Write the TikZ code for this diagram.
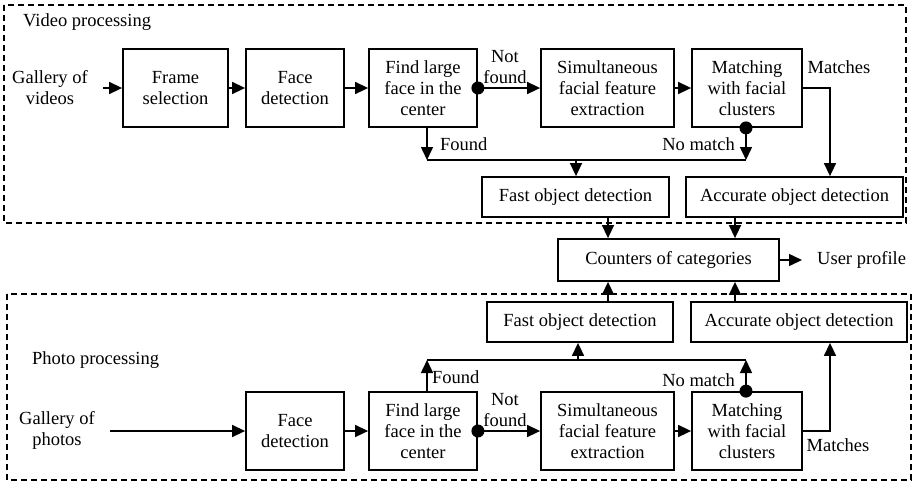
\documentclass[tikz,border=0pt]{standalone}
\usepackage{fontspec}
\setmainfont{Liberation Serif}
\usetikzlibrary{arrows.meta}
\begin{document}
\begin{tikzpicture}[x=1pt,y=-1pt,
  every node/.style={font=\fontsize{18.5}{21}\selectfont},
  box/.style={draw, line width=1.8pt, inner sep=0pt, align=center, minimum height=78pt},
  wbox/.style={draw, line width=1.8pt, inner sep=0pt, align=center, minimum height=40pt},
  lbl/.style={inner sep=0pt, align=center},
  conn/.style={line width=1.5pt},
  arr/.style={conn, -{Triangle[length=13pt,width=12pt]}},
  dot/.style={fill=black, circle, inner sep=0pt, minimum size=13pt},
  region/.style={draw, line width=1.2pt, dash pattern=on 6pt off 4pt}]
\useasboundingbox (0,0) rectangle (912,483);
% regions
\draw[region] (4,5) rectangle (906,223);
\draw[region] (7,294) rectangle (911,480);
\node[lbl, anchor=west] (vp) at (23,22) {Video processing};
\node[lbl, anchor=west] (pp) at (32,360) {Photo processing};
% x reference coordinates
\coordinate (x427) at (427,0);
\coordinate (x576) at (576,0);
\coordinate (x578) at (578,0);
\coordinate (x608) at (608,0);
\coordinate (x735) at (735,0);
\coordinate (x746) at (746,0);
\coordinate (x830) at (830,0);
% top row
\node[lbl] (gal1) at (50,88) {Gallery of\\videos};
\coordinate (gal1s) at (103,88);
\node[box, minimum width=105pt] (frame) at (175.5,88) {Frame\\selection};
\node[box, minimum width=98pt] (face1) at (295,88) {Face\\detection};
\node[box, minimum width=108pt] (find1) at (423,88) {Find large\\face in the\\center};
\node[box, minimum width=133pt] (sim1) at (607.5,88) {Simultaneous\\facial feature\\extraction};
\node[box, minimum width=110pt] (match1) at (747,88) {Matching\\with facial\\clusters};
\node[wbox, minimum width=187pt] (fast1) at (575.5,197) {Fast object detection};
\node[wbox, minimum width=217pt] (acc1) at (794.5,197) {Accurate object detection};
\node[wbox, minimum width=221pt, minimum height=42pt] (count) at (668.5,260) {Counters of categories};
\node[lbl, anchor=west] (user) at (817,260) {User profile};
\node[wbox, minimum width=186pt] (fast2) at (580,322) {Fast object detection};
\node[wbox, minimum width=216pt] (acc2) at (799,322) {Accurate object detection};
% bottom row
\node[lbl] (gal2) at (57,430) {Gallery of\\photos};
\coordinate (gal2s) at (110,431);
\node[box, minimum width=98pt] (face2) at (295,431) {Face\\detection};
\node[box, minimum width=108pt] (find2) at (423,431) {Find large\\face in the\\center};
\node[box, minimum width=133pt] (sim2) at (607.5,431) {Simultaneous\\facial feature\\extraction};
\node[box, minimum width=110pt] (match2) at (747,431) {Matching\\with facial\\clusters};
% top connectors
\draw[arr] (gal1s) -- (frame.west);
\draw[arr] (frame.east) -- (face1.west);
\draw[arr] (face1.east) -- (find1.west);
\draw[arr] (find1.east) -- (sim1.west);
\node[dot] (d1) at (find1.east) {};
\node[lbl] (nf1) at (505,67) {Not\\found};
\draw[arr] (sim1.east) -- (match1.west);
\coordinate (mt1) at (830,88);
\draw[arr] (match1.east) -- (mt1) -- (acc1.north -| x830);
\node[lbl] (m1) at (839,67) {Matches};
\coordinate (j1a) at (427,160);
\coordinate (j1b) at (746,160);
\draw[arr] (find1.south -| x427) -- (j1a);
\draw[arr] (match1.south -| x746) -- (j1b);
\node[dot] (d2) at (match1.south -| x746) {};
\draw[conn] (j1a) -- (j1b);
\draw[arr] (j1a -| x576) -- (fast1.north -| x576);
\node[lbl, anchor=west] (f1) at (440,144) {Found};
\node[lbl, anchor=east] (nm1) at (735,144) {No match};
\draw[arr] (fast1.south -| x608) -- (count.north -| x608);
\draw[arr] (acc1.south -| x735) -- (count.north -| x735);
\draw[arr] (count.east) -- (user.west -| 802,0);
% middle up connectors
\draw[arr] (fast2.north -| x608) -- (count.south -| x608);
\draw[arr] (acc2.north -| x735) -- (count.south -| x735);
% bottom connectors
\draw[arr] (gal2s) -- (face2.west);
\draw[arr] (face2.east) -- (find2.west);
\draw[arr] (find2.east) -- (sim2.west);
\node[dot] (d3) at (find2.east) {};
\node[lbl] (nf2) at (505,410) {Not\\found};
\draw[arr] (sim2.east) -- (match2.west);
\coordinate (mt2) at (830,431);
\draw[arr] (match2.east) -- (mt2) -- (acc2.south -| x830);
\node[lbl] (m2) at (838,445) {Matches};
\coordinate (j2a) at (427,360);
\coordinate (j2b) at (746,360);
\draw[arr] (find2.north -| x427) -- (j2a);
\draw[arr] (match2.north -| x746) -- (j2b);
\node[dot] (d4) at (match2.north -| x746) {};
\draw[conn] (j2a) -- (j2b);
\draw[arr] (j2a -| x578) -- (fast2.south -| x578);
\node[lbl, anchor=west] (f2) at (432,377) {Found};
\node[lbl, anchor=east] (nm2) at (735,380) {No match};
\end{tikzpicture}
\end{document}
